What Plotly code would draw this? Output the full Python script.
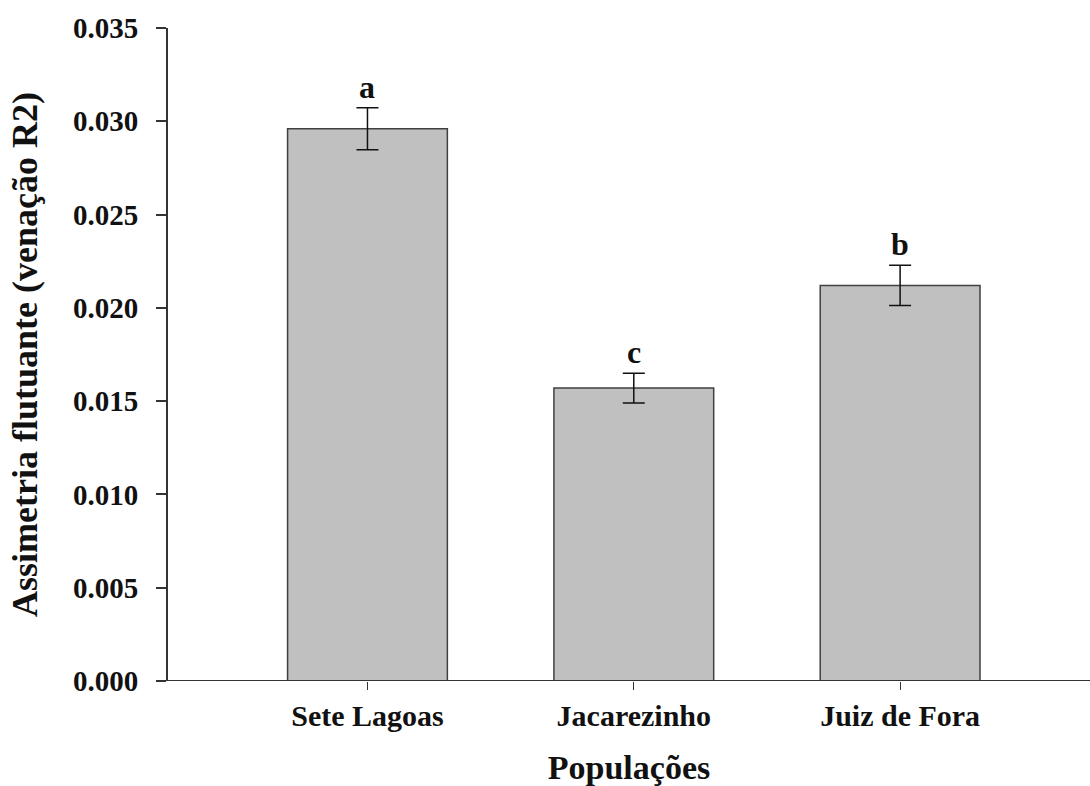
import plotly.graph_objects as go

# Fluctuating asymmetry of the R2 vein, mean ± error per population
populacoes = ["Sete Lagoas", "Jacarezinho", "Juiz de Fora"]
assimetria = [0.0296, 0.0157, 0.0212]
erro = [0.00113, 0.0008, 0.00108]
letras = ["a", "c", "b"]

y_ticks = [0.000, 0.005, 0.010, 0.015, 0.020, 0.025, 0.030, 0.035]

FONT = "Liberation Serif, Times New Roman, serif"
AXIS_COLOR = "#333333"

fig = go.Figure()
fig.add_trace(go.Bar(
    x=populacoes,
    y=assimetria,
    width=0.6,
    marker=dict(color="#c0c0c0", line=dict(color="#404040", width=1.5)),
    error_y=dict(type="data", array=erro, visible=True,
                 color="#111111", thickness=1.5, width=11),
    showlegend=False,
))

# significance letters above each error bar
for pop, m, e, l in zip(populacoes, assimetria, erro, letras):
    fig.add_annotation(x=pop, y=m + e, text=f"<b>{l}</b>", showarrow=False,
                       yanchor="bottom", yshift=1,
                       font=dict(family=FONT, size=32, color="#111111"))

# baseline extending slightly past the y axis
fig.add_shape(type="line", xref="paper", yref="y", x0=-0.011, x1=1, y0=0, y1=0,
              line=dict(color=AXIS_COLOR, width=1.8))

fig.update_layout(
    width=1090, height=786,
    margin=dict(l=168, r=0, t=28, b=105),
    paper_bgcolor="white", plot_bgcolor="white",
    font=dict(family=FONT, color="#111111"),
    xaxis=dict(
        range=[-0.749, 2.713],
        showline=False, showgrid=False, zeroline=False,
        ticks="outside", ticklen=8, tickwidth=1.2, tickcolor=AXIS_COLOR,
        tickfont=dict(family=FONT, size=30, color="#111111"),
        tickprefix="<b>", ticksuffix="</b>",
        title=dict(text="<b>Populações</b>", standoff=24,
                   font=dict(family=FONT, size=34, color="#111111")),
    ),
    yaxis=dict(
        range=[0, 0.035],
        tickvals=y_ticks,
        ticktext=[f"<b>{v:.3f}</b>" for v in y_ticks],
        showline=True, linecolor=AXIS_COLOR, linewidth=1.8,
        showgrid=False, zeroline=False,
        ticks="outside", ticklen=10, tickwidth=1.5, tickcolor=AXIS_COLOR,
        ticklabelstandoff=12,
        tickfont=dict(family=FONT, size=29, color="#111111"),
        title=dict(text="<b>Assimetria flutuante (venação R2)</b>", standoff=24,
                   font=dict(family=FONT, size=36, color="#111111")),
    ),
)

fig.write_html("out.html")
